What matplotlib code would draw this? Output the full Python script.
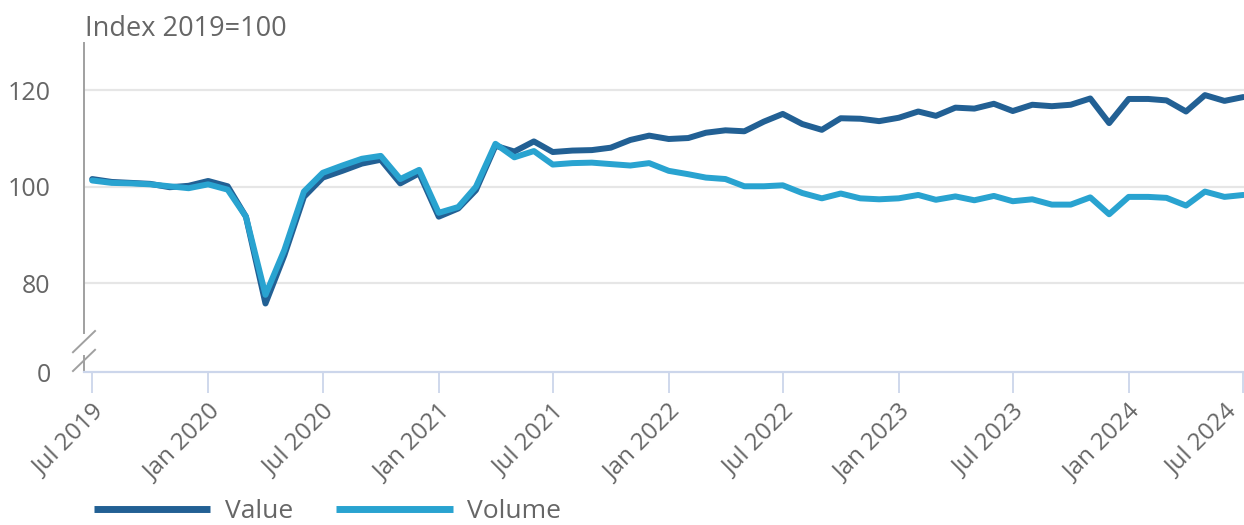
import pandas as pd
import matplotlib
matplotlib.use("Agg")
import matplotlib.pyplot as plt
import matplotlib.dates as mdates
import matplotlib.transforms as mtransforms
from datetime import date

plt.rcParams['font.family'] = ['Open Sans', 'DejaVu Sans']

# monthly index, 2019=100
months = pd.date_range("2019-07-01", "2024-07-01", freq="MS")
value = [101.6, 101.0, 100.8, 100.6, 99.9, 100.2, 101.2, 100.1, 93.8, 75.8,
         85.8, 97.9, 101.9, 103.3, 104.8, 105.6, 100.7, 102.8, 93.8, 95.5,
         99.3, 108.5, 107.3, 109.4, 107.2, 107.5, 107.6, 108.1, 109.7, 110.6,
         109.9, 110.1, 111.2, 111.7, 111.5, 113.5, 115.1, 113.0, 111.8, 114.2,
         114.1, 113.6, 114.3, 115.6, 114.7, 116.4, 116.2, 117.2, 115.7, 117.0,
         116.7, 117.0, 118.3, 113.2, 118.2, 118.2, 117.9, 115.6, 119.0, 117.8, 118.6]
volume = [101.3, 100.8, 100.7, 100.5, 100.1, 99.7, 100.5, 99.4, 93.8, 77.6,
          86.9, 99.0, 102.9, 104.4, 105.8, 106.4, 101.6, 103.5, 94.6, 95.8,
          100.0, 108.9, 106.1, 107.4, 104.6, 104.9, 105.0, 104.7, 104.4, 104.9,
          103.3, 102.6, 101.9, 101.6, 100.1, 100.1, 100.3, 98.7, 97.6, 98.6,
          97.6, 97.4, 97.6, 98.3, 97.3, 98.0, 97.2, 98.1, 97.0, 97.4,
          96.3, 96.3, 97.8, 94.3, 97.9, 97.9, 97.7, 96.1, 99.0, 97.9, 98.3]
series_names = ["Value", "Volume"]
colors = ["#226094", "#29a3d0"]

y_ticks = [80, 100, 120]
y_bottom, y_top = 61.6, 129.8
txt = "#666666"

fig = plt.figure(figsize=(12.44, 5.25), dpi=100)
ax = fig.add_axes([84 / 1244, 1 - 372 / 525, 1160 / 1244, 329 / 525])

for yv in y_ticks:
    ax.axhline(yv, color="#e6e6e6", lw=1.6, zorder=1)

handles = []
for vals, name, c in zip([value, volume], series_names, colors):
    h, = ax.plot(months, vals, color=c, lw=4.3, label=name, zorder=3,
                 solid_joinstyle="round", solid_capstyle="round")
    handles.append(h)

ax.set_xlim(date(2019, 6, 18), date(2024, 7, 2))
ax.set_ylim(y_bottom, y_top)

# fake "0" at the bottom of the broken axis
ax.set_yticks([y_bottom] + y_ticks)
ax.set_yticklabels(["0"] + [str(t) for t in y_ticks])
ax.tick_params(axis="y", length=0, pad=24, labelsize=18, labelcolor=txt)

ax.xaxis.set_major_locator(mdates.MonthLocator(bymonth=[1, 7]))
ax.xaxis.set_major_formatter(mdates.DateFormatter("%b %Y"))
ax.tick_params(axis="x", length=15, width=1.3, color="#ccd6eb", pad=5,
               labelsize=17.5, labelcolor=txt)
xlabels = ax.get_xticklabels()
for lab in xlabels:
    lab.set_rotation(45)
    lab.set_ha("right")
    lab.set_va("top")
    lab.set_rotation_mode("anchor")
# last label pulled inside the figure, like the original
xlabels[-1].set_transform(xlabels[-1].get_transform() +
                          mtransforms.ScaledTranslation(-18 / 100, 0, fig.dpi_scale_trans))

for s in ["top", "right"]:
    ax.spines[s].set_visible(False)
ax.spines["bottom"].set_color("#ccd6eb")
ax.spines["bottom"].set_linewidth(1.6)
ax.spines["left"].set_color("#a0a0a0")
ax.spines["left"].set_linewidth(1.4)
ax.spines["left"].set_bounds(69.7, y_top)

# axis break marks
tr = ax.get_yaxis_transform()
ax.plot([0, 0], [y_bottom, 65.0], color="#a0a0a0", lw=1.4, transform=tr, clip_on=False)
ax.plot([-0.0095, 0.0095], [65.7, 70.1], color="#a0a0a0", lw=1.4, transform=tr, clip_on=False)
ax.plot([-0.0095, 0.0095], [61.8, 66.2], color="#a0a0a0", lw=1.4, transform=tr, clip_on=False)

fig.text(85 / 1244, 1 - 36 / 525, "Index 2019=100", fontsize=19.5, color=txt, va="baseline")

fig.legend(handles=handles, loc="center left", bbox_to_anchor=(94 / 1244, 1 - 512 / 525),
           ncol=2, frameon=False, fontsize=19, labelcolor=txt, handlelength=4.4,
           handletextpad=0.55, columnspacing=1.65, borderpad=0, borderaxespad=0)
for lh in fig.legends[0].get_lines():
    lh.set_linewidth(5)
    lh.set_solid_capstyle("butt")

fig.savefig("out.png", dpi=100)
